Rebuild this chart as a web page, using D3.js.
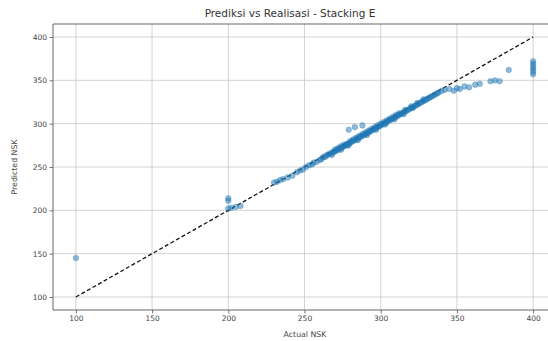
<!DOCTYPE html>
<html>
<head>
<meta charset="utf-8">
<script src="https://cdn.jsdelivr.net/npm/d3@7"></script>
<style>
  html, body { margin: 0; padding: 0; background: #fff; }
  svg { display: block; font-family: "DejaVu Sans", sans-serif; }
</style>
</head>
<body>
<svg id="chart" width="548" height="341"></svg>
<script>
// Actual vs predicted NSK values (stacking ensemble)
const actual = [
  100,
  200, 200, 200, 202, 205, 208,
  230, 232, 234, 236, 239, 242, 245, 247, 249, 251, 253, 255, 256, 258, 260,
  261, 262, 263, 264, 265, 266, 267, 268, 269, 270, 270, 271, 272, 272, 273,
  274, 274, 275, 276, 276, 277, 278, 278, 279, 280, 280, 281, 282, 282, 283,
  284, 284, 285, 286, 286, 287, 288, 288, 289, 290, 290, 291, 292, 292, 293,
  294, 294, 295, 296, 296, 297, 298, 298, 299, 300, 300, 301, 302, 302, 303,
  304, 304, 305, 306, 306, 307, 308, 308, 309, 310, 310, 311, 312, 312, 313,
  314, 315, 316, 316, 317, 318, 319, 320, 320, 321, 322, 323, 324, 324, 325,
  326, 327, 328, 328, 329, 330, 331, 332, 333, 334, 335, 336, 337, 338, 340, 342,
  268, 274, 279, 285, 291, 297, 303, 309, 315, 321,
  279, 283, 288,
  345, 348, 350, 352, 355, 358, 362, 365, 372, 375, 378, 384,
  400, 400, 400, 400, 400, 400
];
const predicted = [
  145,
  214, 211, 202, 203, 204, 205,
  232, 233, 235, 236, 238, 240, 244, 246, 247, 250, 252, 253, 255, 256, 258,
  259, 261, 262, 262, 264, 265, 265, 267, 267, 268, 270, 269, 270, 272, 271,
  272, 274, 273, 274, 276, 275, 275, 277, 277, 278, 280, 279, 280, 282, 281,
  282, 284, 283, 284, 286, 285, 286, 288, 287, 288, 290, 289, 290, 292, 291,
  292, 294, 293, 294, 296, 295, 296, 298, 297, 298, 300, 299, 300, 302, 301,
  302, 304, 303, 304, 306, 305, 306, 308, 307, 308, 310, 309, 310, 312, 311,
  312, 313, 314, 316, 315, 316, 317, 318, 320, 319, 320, 321, 322, 324, 323,
  324, 325, 326, 328, 327, 328, 329, 330, 331, 332, 333, 334, 335, 336, 338, 339,
  264, 270, 275, 281, 287, 293, 299, 305, 311, 318,
  293, 296, 298,
  340, 338, 341, 340, 343, 342, 345, 346, 349, 350, 349, 362,
  357, 360, 363, 366, 369, 372
];
const xTicks = [100, 150, 200, 250, 300, 350, 400];
const yTicks = [100, 150, 200, 250, 300, 350, 400];
const refLine = [100, 400];   // ideal prediction y = x
const domain = [85, 415];

const svg = d3.select("#chart");
const margin = { left: 53, top: 24, right: -8, bottom: 31 };
const W = 548, H = 341;

const x = d3.scaleLinear().domain(domain).range([margin.left, W - margin.right]);
const y = d3.scaleLinear().domain(domain).range([H - margin.bottom, margin.top]);

svg.append("defs").append("clipPath").attr("id", "plotClip")
  .append("rect")
  .attr("x", margin.left).attr("y", margin.top)
  .attr("width", W - margin.right - margin.left)
  .attr("height", H - margin.bottom - margin.top);

// grid
const grid = svg.append("g").attr("clip-path", "url(#plotClip)");
grid.selectAll(".gx").data(xTicks).join("line")
  .attr("x1", d => x(d)).attr("x2", d => x(d))
  .attr("y1", margin.top).attr("y2", H - margin.bottom)
  .attr("stroke", "#c8c8c8").attr("stroke-width", 0.8);
grid.selectAll(".gy").data(yTicks).join("line")
  .attr("x1", margin.left).attr("x2", W)
  .attr("y1", d => y(d)).attr("y2", d => y(d))
  .attr("stroke", "#c8c8c8").attr("stroke-width", 0.8);

// reference line y = x
svg.append("line")
  .attr("x1", x(refLine[0])).attr("y1", y(refLine[0]))
  .attr("x2", x(refLine[1])).attr("y2", y(refLine[1]))
  .attr("stroke", "#111").attr("stroke-width", 1.3)
  .attr("stroke-dasharray", "4,2.4");

// scatter points
const pts = actual.map((a, i) => [a, predicted[i]]);
svg.append("g").attr("clip-path", "url(#plotClip)")
  .selectAll("circle").data(pts).join("circle")
  .attr("cx", d => x(d[0])).attr("cy", d => y(d[1]))
  .attr("r", 2.8)
  .attr("fill", "#1f77b4").attr("fill-opacity", 0.5)
  .attr("stroke", "#1f77b4").attr("stroke-opacity", 0.5).attr("stroke-width", 0.6);

// axes
const xAxis = d3.axisBottom(x).tickValues(xTicks).tickSize(3.5).tickPadding(2.5);
const yAxis = d3.axisLeft(y).tickValues(yTicks).tickSize(3.5).tickPadding(2.5);

const gx = svg.append("g").attr("transform", `translate(0,${H - margin.bottom})`).call(xAxis);
const gy = svg.append("g").attr("transform", `translate(${margin.left},0)`).call(yAxis);
[gx, gy].forEach(g => {
  g.select(".domain").remove();
  g.selectAll("line").attr("stroke", "#555").attr("stroke-width", 0.8);
  g.selectAll("text").attr("fill", "#444").attr("font-size", 7.5)
    .attr("font-family", "DejaVu Sans, sans-serif");
});

// frame (left, top, bottom)
svg.append("path")
  .attr("d", `M${W},${margin.top}H${margin.left}V${H - margin.bottom}H${W}`)
  .attr("fill", "none").attr("stroke", "#555").attr("stroke-width", 0.9);

// labels
svg.append("text")
  .attr("x", 290).attr("y", 17)
  .attr("text-anchor", "middle").attr("font-size", 10.5).attr("fill", "#333")
  .text("Prediksi vs Realisasi - Stacking E");
svg.append("text")
  .attr("x", 305).attr("y", 337)
  .attr("text-anchor", "middle").attr("font-size", 7.8).attr("fill", "#444")
  .text("Actual NSK");
svg.append("text")
  .attr("transform", `translate(17,167) rotate(-90)`)
  .attr("text-anchor", "middle").attr("font-size", 7.8).attr("fill", "#444")
  .text("Predicted NSK");
</script>
</body>
</html>
